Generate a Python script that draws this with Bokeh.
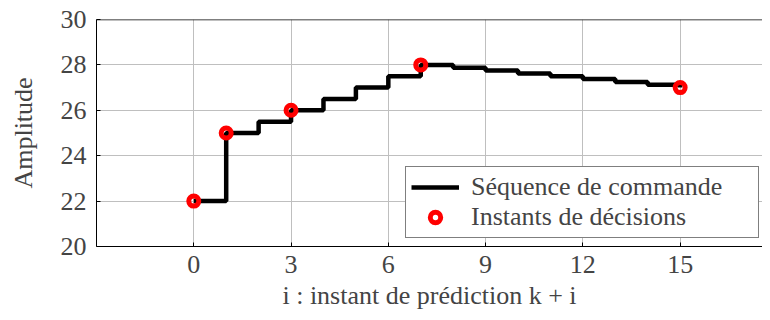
from bokeh.plotting import figure
from bokeh.models import Range1d, FixedTicker, Legend, Span
from bokeh.embed import file_html
from bokeh.resources import INLINE

# ---- data ----
instants = list(range(16))
commande = [22, 25, 25.5, 26, 26.5, 27, 27.5, 28, 27.875, 27.75, 27.625, 27.5, 27.375, 27.25, 27.125, 27]
decision_x = [0, 1, 3, 7, 15]
decision_y = [22, 25, 26, 28, 27]
x_ticks = [0, 3, 6, 9, 12, 15]
y_ticks = [20, 22, 24, 26, 28, 30]

FONT = "Liberation Serif, serif"
FS = "26px"

p = figure(width=762, height=312, output_backend="svg", toolbar_location=None,
           x_range=Range1d(-3, 17.54), y_range=Range1d(20, 30),
           min_border_left=96, min_border_right=0, min_border_top=19, min_border_bottom=66)
p.outline_line_color = None
p.background_fill_color = "white"

bottom_axis = p.below[0]
left_axis = p.left[0]

for ax in (bottom_axis, left_axis):
    ax.major_label_text_font = FONT
    ax.major_label_text_font_size = FS
    ax.axis_label_text_font = FONT
    ax.axis_label_text_font_size = FS
    ax.axis_label_text_font_style = "normal"
    ax.axis_line_color = "black"
    ax.major_tick_line_color = "black"
    ax.major_tick_in = 4
    ax.major_tick_out = 0
    ax.minor_tick_line_color = None

bottom_axis.ticker = FixedTicker(ticks=x_ticks)
left_axis.ticker = FixedTicker(ticks=y_ticks)
bottom_axis.axis_label = "i : instant de prédiction k + i"
left_axis.axis_label = "Amplitude"
bottom_axis.major_label_standoff = 9
bottom_axis.axis_label_standoff = 5
left_axis.major_label_standoff = 10
left_axis.axis_label_standoff = 20

p.grid.grid_line_color = "#bfbfbf"
p.grid.grid_line_width = 1

p.add_layout(Span(location=30, dimension="width", line_color="black", line_width=1.5))

r_line = p.step(instants, commande, mode="after", line_width=4.5, line_color="black")
r_pts = p.scatter(decision_x, decision_y, marker="circle", size=10, fill_color=None,
                  line_color="red", line_width=5)

legend = Legend(items=[("Séquence de commande", [r_line]), ("Instants de décisions", [r_pts])],
                location=(309, 8))
legend.label_text_font = FONT
legend.label_text_font_size = FS
legend.border_line_color = "black"
legend.border_line_width = 1
legend.background_fill_alpha = 1
legend.glyph_width = 48
legend.glyph_height = 26
legend.label_height = 26
legend.label_width = 282
legend.label_standoff = 12
legend.spacing = 0
legend.padding = 5
legend.margin = 0
p.add_layout(legend, "center")

open("out.html", "w").write(file_html(p, INLINE))
